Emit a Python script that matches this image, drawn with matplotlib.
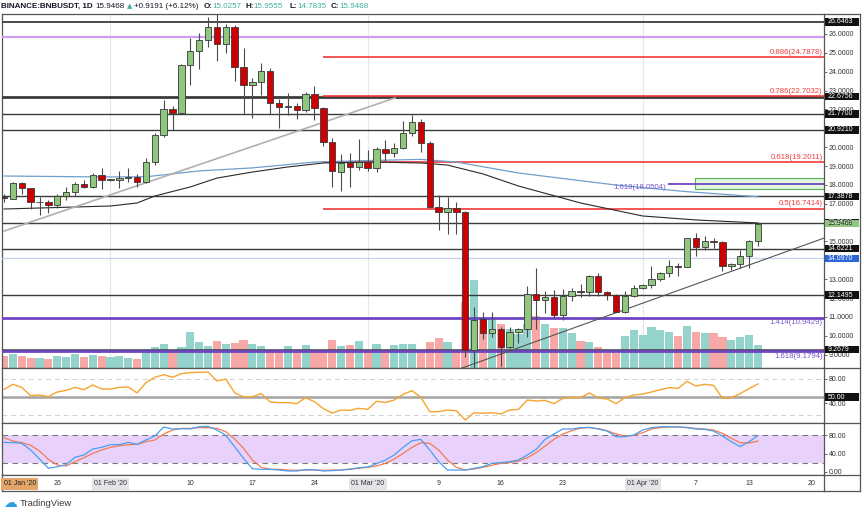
import matplotlib
matplotlib.use("Agg")
import matplotlib.pyplot as plt
import matplotlib.dates as mdates
from matplotlib.patches import Rectangle
from matplotlib.lines import Line2D
import numpy as np
import pandas as pd

plt.rcParams['font.family'] = ['Liberation Sans', 'DejaVu Sans']

# ---- data ----
dates = pd.date_range("2020-01-20", "2020-04-14", freq="D")

opens = [17.32, 17.27, 18.08, 17.82, 17.07, 17.08, 16.95, 17.43, 17.64, 18.03,
         17.91, 18.52, 18.26, 18.26, 18.38, 18.43, 18.17, 19.23, 20.64, 22.02,
         21.79, 24.36, 25.12, 25.68, 26.39, 25.47, 26.35, 24.23, 23.30, 23.45,
         24.06, 22.36, 22.15, 22.18, 21.97, 22.80, 22.06, 20.29, 18.70, 19.18,
         18.97, 19.20, 18.88, 19.90, 19.67, 19.94, 20.73, 21.32, 20.24, 16.84,
         16.58, 16.80, 16.58, 9.24, 10.87, 10.13, 10.34, 9.39, 10.22, 10.34,
         12.21, 11.90, 12.07, 11.12, 12.12, 12.39, 12.30, 13.17, 12.30, 12.16,
         11.28, 12.11, 12.51, 12.69, 12.99, 13.31, 13.72, 13.66, 15.17, 14.69,
         15.04, 14.95, 13.70, 13.81, 14.25, 15.0257]
closes = [17.30, 18.12, 17.82, 17.07, 17.08, 16.95, 17.43, 17.64, 18.03, 17.91,
          18.52, 18.26, 18.26, 18.38, 18.43, 18.17, 19.23, 20.64, 22.02, 21.79,
          24.36, 25.12, 25.68, 26.39, 25.47, 26.35, 24.23, 23.30, 23.45, 24.06,
          22.36, 22.15, 22.18, 21.97, 22.80, 22.09, 20.29, 18.74, 19.18, 18.97,
          19.20, 18.88, 19.90, 19.67, 19.94, 20.73, 21.32, 20.24, 16.84, 16.58,
          16.80, 16.58, 9.24, 10.84, 10.13, 10.34, 9.39, 10.22, 10.34, 12.21,
          11.90, 12.07, 11.12, 12.12, 12.39, 12.30, 13.17, 12.30, 12.16, 11.28,
          12.11, 12.51, 12.69, 12.99, 13.31, 13.72, 13.66, 15.17, 14.69, 15.04,
          14.95, 13.70, 13.81, 14.25, 15.03, 15.9468]
highs = [17.50, 18.17, 18.17, 17.85, 17.37, 17.20, 17.50, 17.91, 18.17, 18.26,
         18.61, 18.88, 18.30, 18.76, 18.88, 18.58, 19.41, 20.77, 22.50, 22.18,
         24.41, 25.77, 26.04, 26.92, 27.10, 26.53, 26.48, 25.24, 23.66, 24.44,
         24.18, 22.53, 22.85, 22.32, 22.94, 23.24, 22.15, 20.50, 19.64, 19.71,
         20.41, 19.85, 20.02, 20.37, 20.23, 21.40, 21.71, 21.48, 20.30, 17.46,
         17.37, 17.11, 16.60, 11.51, 11.24, 11.24, 10.48, 10.45, 10.39, 12.65,
         13.61, 12.39, 12.42, 12.46, 12.51, 12.77, 13.22, 13.31, 12.37, 12.21,
         12.39, 12.69, 12.72, 13.70, 13.40, 14.02, 13.88, 15.17, 15.43, 15.31,
         15.17, 15.04, 13.88, 14.55, 15.08, 15.9555]
lows = [17.11, 17.23, 17.52, 16.70, 16.40, 16.53, 16.76, 17.20, 17.40, 17.82,
        17.86, 17.77, 18.22, 17.82, 18.17, 17.91, 18.12, 19.05, 20.55, 20.90,
        21.76, 23.30, 24.13, 25.33, 24.59, 25.01, 23.53, 21.76, 21.53, 22.77,
        21.76, 21.00, 21.71, 21.48, 21.88, 21.44, 20.08, 17.91, 17.70, 17.91,
        18.79, 18.75, 18.70, 19.26, 19.49, 19.88, 20.59, 19.76, 16.75, 15.61,
        15.40, 15.40, 8.89, 6.50, 9.81, 9.95, 8.41, 9.34, 9.60, 9.95,
        10.36, 11.22, 10.93, 10.84, 11.86, 12.04, 12.11, 12.11, 11.90, 11.24,
        11.22, 12.07, 12.49, 12.51, 12.90, 13.14, 13.17, 13.63, 14.23, 14.55,
        14.64, 13.45, 13.49, 13.58, 13.61, 14.7835]
volumes = [0.60, 0.70, 0.60, 0.52, 0.52, 0.45, 0.60, 0.57, 0.72, 0.54,
           0.65, 0.60, 0.55, 0.58, 0.50, 0.45, 0.85, 1.04, 1.19, 0.80,
           1.05, 1.80, 1.30, 1.10, 1.35, 1.20, 1.25, 1.40, 1.20, 1.10,
           0.80, 0.80, 1.10, 0.80, 1.14, 0.80, 0.80, 1.40, 1.12, 1.15,
           1.33, 0.80, 1.22, 0.80, 1.15, 1.20, 1.20, 0.80, 1.29, 1.52,
           1.29, 0.80, 3.30, 4.38, 2.50, 2.45, 2.20, 1.95, 1.70, 2.20,
           2.60, 2.20, 2.00, 2.00, 1.75, 1.35, 1.30, 1.05, 0.75, 0.75,
           1.60, 1.90, 1.63, 2.03, 1.90, 1.80, 1.60, 2.10, 1.78, 1.73,
           1.75, 1.53, 1.40, 1.55, 1.63, 1.15]
rsi = [62.8, 71.1, 66.1, 52.2, 53.3, 50.6, 58.3, 61.1, 66.1, 62.2,
       70.0, 63.3, 63.3, 66.1, 66.7, 56.7, 73.9, 82.8, 87.2, 82.8,
       88.9, 90.6, 91.1, 91.7, 76.7, 80.0, 57.2, 50.0, 50.6, 55.6,
       41.7, 40.6, 40.6, 38.9, 48.9, 42.2, 30.6, 23.3, 28.3, 27.8,
       31.1, 29.4, 42.8, 41.1, 45.0, 54.4, 60.6, 49.4, 25.6,
       25.6, 28.3, 27.2, 11.7, 23.9, 22.8, 23.9, 21.7, 28.3, 29.4,
       45.0, 43.3, 44.4, 38.9, 47.8, 49.4, 48.9, 56.7, 48.3, 46.7,
       38.9, 48.9, 53.3, 55.0, 58.3, 62.2, 65.6, 64.4, 76.1, 68.3,
       71.1, 69.4, 47.8, 48.9, 55.6, 63.9, 71.7]
stoch_k = [64.1, 63.4, 62.0, 47.6, 28.1, 7.9, 11.5, 15.9, 31.7, 36.8,
           49.7, 53.3, 59.1, 59.1, 64.1, 59.8, 69.2, 77.8, 97.3, 93.0,
           93.7, 93.0, 98.0, 98.7, 90.8, 79.3, 54.8, 29.5, 7.2, 5.8,
           5.8, 4.3, 2.2, 2.2, 5.0, 5.0, 2.2, 2.9, 4.3, 5.8,
           9.4, 10.8, 18.0, 25.9, 36.8, 53.3, 67.7, 70.6, 47.6,
           22.3, 4.3, 4.3, 4.3, 7.9, 11.5, 18.7, 20.2, 22.3, 25.9,
           36.8, 49.0, 70.6, 82.2, 93.0, 93.0, 95.9, 96.6, 93.0, 88.6,
           76.4, 76.4, 80.0, 90.8, 95.9, 98.0, 98.0, 97.3, 96.6, 93.0,
           92.3, 88.6, 77.8, 65.6, 54.8, 65.6, 78.6]
stoch_d = [74.2, 67.0, 63.4, 57.7, 45.4, 27.4, 15.1, 13.0, 22.3, 31.0,
           40.4, 47.6, 53.3, 56.9, 59.1, 59.8, 65.6, 69.2, 82.2, 90.8,
           94.4, 94.4, 95.9, 95.9, 94.4, 87.2, 71.4, 51.2, 25.9, 10.1,
           5.8, 5.8, 4.3, 3.6, 4.3, 4.3, 3.6, 4.3, 4.3, 6.5,
           7.9, 10.1, 13.0, 18.7, 28.1, 40.4, 53.3, 63.4, 62.0,
           47.6, 25.9, 10.1, 4.3, 6.5, 10.1, 14.4, 18.7, 20.2, 23.8,
           31.0, 41.8, 56.2, 70.6, 82.2, 89.4, 95.1, 95.9, 93.7, 89.4,
           82.2, 77.8, 79.3, 85.0, 93.0, 95.9, 97.3, 97.3, 95.9, 94.4,
           93.0, 90.8, 83.6, 72.8, 63.4, 62.7, 67.0]

# moving averages, read at a few points
ma_black_dates = ["2020-01-20", "2020-02-01", "2020-02-04", "2020-02-06", "2020-02-10",
                  "2020-02-13", "2020-02-17", "2020-02-21", "2020-02-25", "2020-03-02",
                  "2020-03-07", "2020-03-10", "2020-03-14", "2020-03-18", "2020-03-25",
                  "2020-04-01", "2020-04-07", "2020-04-14"]
ma_black_vals = [16.72, 16.88, 17.04, 17.41, 17.89, 18.36, 18.68, 18.95, 19.16, 19.21,
                 19.16, 19.05, 18.58, 17.94, 17.04, 16.35, 16.14, 15.98]
ma_blue_dates = ["2020-01-20", "2020-01-31", "2020-02-05", "2020-02-11", "2020-02-17",
                 "2020-02-24", "2020-03-01", "2020-03-07", "2020-03-11", "2020-03-18",
                 "2020-03-29", "2020-04-06", "2020-04-14"]
ma_blue_vals = [18.47, 18.42, 18.43, 18.74, 18.90, 19.21, 19.29, 19.35, 19.21, 18.63,
                17.99, 17.64, 17.37]

trend_up_dates = ["2020-01-20 00:00", "2020-03-04 02:00"]
trend_up_vals = [15.55, 22.61]
trend_low_dates = ["2020-03-12", "2020-04-14"]
trend_low_vals = [8.35, 13.92]

black_levels = [26.6463, 22.6756, 21.7700, 20.9210, 17.3878, 15.9869, 14.6221, 12.1495, 9.2679]
black_widths = [1.3, 2.0, 1.0, 1.0, 1.0, 1.0, 1.0, 1.0, 1.8]
fib_red = [(0.886, 24.7878), (0.786, 22.7032), (0.618, 19.2011), (0.5, 16.7414)]
fib_purple = [(1.414, 10.9429), (1.618, 9.1794)]
fib_ext = (1.618, 18.0504)
violet_level = 25.86
blue_level = 14.0970
zone_low, zone_high = 17.78, 18.36
last_price = 15.9468
scale_ticks = [9, 10, 11, 12, 13, 15, 17, 18, 19, 20, 22, 23, 24, 25, 26]

date_labels = [("2020-01-26", "26"), ("2020-02-01", "01 Feb '20"), ("2020-02-10", "10"),
               ("2020-02-17", "17"), ("2020-02-24", "24"), ("2020-03-01", "01 Mar '20"),
               ("2020-03-09", "9"), ("2020-03-16", "16"), ("2020-03-23", "23"),
               ("2020-04-01", "01 Apr '20"), ("2020-04-07", "7"), ("2020-04-13", "13"),
               ("2020-04-20", "20")]

# ---- layout ----
W, H = 864, 516
def fx(px): return px / W
def fy(py): return 1 - py / H

fig = plt.figure(figsize=(8.64, 5.16), dpi=100)
L, R = 2, 824
ax = fig.add_axes([fx(L), fy(368), (R - L) / W, (368 - 14) / H])
rax = fig.add_axes([fx(L), fy(423), (R - L) / W, 55 / H], sharex=ax)
sax = fig.add_axes([fx(L), fy(475), (R - L) / W, 52 / H], sharex=ax)
dax = fig.add_axes([fx(L), fy(491), (R - L) / W, 16 / H], sharex=ax)
vax = ax.twinx()
vax.set_zorder(ax.get_zorder() - 1)
ax.patch.set_visible(False)

x = mdates.date2num(dates)
O, Hh, Lw, C = map(np.array, (opens, highs, lows, closes))
up = C >= O

xlim = (x[0] - 0.23, x[0] + 92.45)
ax.set_xlim(*xlim)
ax.set_ylim(8.29, 27.06)
rax.set_ylim(6.7, 98.3)
sax.set_ylim(-6.5, 106)
dax.set_ylim(0, 1)
vax.set_ylim(0, 17.65)

def dnum(lst):
    return mdates.date2num(pd.to_datetime(lst, format='mixed'))

# volume
vax.bar(x, volumes, width=0.92, color=np.where(up, '#93d3cc', '#f6a8a7'), zorder=2)
for m in ["2020-02-01", "2020-03-01", "2020-04-01"]:
    vax.axvline(mdates.date2num(pd.Timestamp(m)), color='#e6e6e6', lw=0.8, zorder=1)
vax.set_yticks([])
vax.tick_params(left=False, right=False, labelright=False, bottom=False, labelbottom=False)
for s in vax.spines.values():
    s.set_visible(False)

# horizontal levels
ytr = ax.get_yaxis_transform()
for lv, w in zip(black_levels, black_widths):
    ax.axhline(lv, color='#3c3c3c', lw=w, zorder=3)
ax.axhline(violet_level, color='#cf9cf2', lw=1.6, zorder=3)
ax.axhline(blue_level, color='#c5d3ee', lw=0.9, zorder=3)
fib_start = mdates.date2num(pd.Timestamp("2020-02-25")) - 0.05
for r, lv in fib_red:
    ax.hlines(lv, fib_start, xlim[1], color='#f23a3a', lw=1.2, zorder=3)
    ax.text(0.9985, lv + 0.06, f"{r}({lv})", transform=ytr, ha='right', va='bottom',
            color='#f23a3a', fontsize=5.6, zorder=6)
for r, lv in fib_purple:
    ax.axhline(lv, color='#6f45c4', lw=2.0, zorder=3)
    ax.text(0.9985, lv - 0.08, f"{r}({lv})", transform=ytr, ha='right', va='top',
            color='#7b58cc', fontsize=5.6, zorder=6)
ext_start = mdates.date2num(pd.Timestamp("2020-04-04")) - 0.1
ax.add_patch(Rectangle((mdates.date2num(pd.Timestamp("2020-04-07")) - 0.1, zone_low),
                       xlim[1], zone_high - zone_low, facecolor='#e2f6dc',
                       edgecolor='#5cae5c', lw=0.8, zorder=2))
ax.hlines(fib_ext[1], ext_start, xlim[1], color='#6f45c4', lw=1.3, zorder=3)
ax.text(ext_start - 0.2, fib_ext[1] - 0.02, f"{fib_ext[0]}({fib_ext[1]})",
        ha='right', va='top', color='#7b58cc', fontsize=5.6, zorder=6)

# moving averages and trend lines
ax.plot(dnum(ma_blue_dates), ma_blue_vals, color='#6f9fcf', lw=0.9, zorder=3)
ax.plot(dnum(ma_black_dates), ma_black_vals, color='#2a2a2a', lw=0.8, zorder=3)
ax.plot(dnum(trend_up_dates), trend_up_vals, color='#b0b0b0', lw=1.2, zorder=3)
tl = dnum(trend_low_dates)
ax.axline((tl[0], trend_low_vals[0]), (tl[1], trend_low_vals[1]), color='#555555', lw=0.8, zorder=3)

# candles
ax.vlines(x, Lw, Hh, color='#4a4a4a', lw=0.8, zorder=4)
body = np.maximum(np.abs(C - O), 0.035)
ax.bar(x, body, bottom=np.minimum(O, C), width=0.72,
       color=np.where(up, '#8fc77f', '#cc0000'), edgecolor='#383838', linewidth=0.6, zorder=5)

# right price scale
ax.yaxis.tick_right()
ax.set_yticks(scale_ticks)
ax.set_yticklabels([f"{v:.4f}" for v in scale_ticks])
ax.tick_params(axis='y', length=2, width=0.6, color='#555', labelsize=5, pad=1.5, labelcolor='#333')
ax.tick_params(axis='x', bottom=False, labelbottom=False)


def scale_box(a, y, label, fc, tc, hpx=7.5):
    y0, y1 = a.get_ylim()
    hpx_axes = a.get_position().height * H
    h = hpx * (y1 - y0) / hpx_axes
    tr = a.get_yaxis_transform()
    a.add_patch(Rectangle((1.0012, y - h / 2), 0.0415, h, transform=tr, facecolor=fc,
                          edgecolor='none', clip_on=False, zorder=10))
    a.text(1.0045, y, label, transform=tr, ha='left', va='center', fontsize=5,
           color=tc, clip_on=False, zorder=11)


for lv in black_levels:
    scale_box(ax, lv, f"{lv:.4f}", '#111111', 'white')
scale_box(ax, last_price, f"{last_price:.4f}", '#8fc77f', '#1a1a1a')
scale_box(ax, blue_level, f"{blue_level:.4f}", '#2b67d6', 'white')

# RSI
rax.plot(x, rsi, color='#f6a42f', lw=1.0, zorder=4)
rax.axhline(50, color='#a3a3a3', lw=1.8, zorder=2)
for lv in (80, 20):
    rax.axhline(lv, color='#cfcfcf', lw=0.7, ls=(0, (5, 4)), zorder=2)
rax.yaxis.tick_right()
rax.set_yticks([80, 40])
rax.set_yticklabels(["80.00", "40.00"])
rax.tick_params(axis='y', length=2, width=0.6, color='#555', labelsize=5, pad=1.5, labelcolor='#333')
rax.tick_params(axis='x', bottom=False, labelbottom=False)
scale_box(rax, 50, "50.00", '#111111', 'white')

# Stoch RSI
sax.axhspan(20, 80, color='#e8d2fb', lw=0, zorder=1)
for lv in (80, 20):
    sax.axhline(lv, color='#777777', lw=0.8, ls=(0, (5, 4)), zorder=2)
sax.plot(x, stoch_d, color='#f27b52', lw=0.9, zorder=4)
sax.plot(x, stoch_k, color='#4a9ef2', lw=0.9, zorder=5)
sax.yaxis.tick_right()
sax.set_yticks([80, 40, 0])
sax.set_yticklabels(["80.00", "40.00", "0.00"])
sax.tick_params(axis='y', length=2, width=0.6, color='#555', labelsize=5, pad=1.5, labelcolor='#333')
sax.tick_params(axis='x', bottom=False, labelbottom=False)

# date row
dax.set_yticks([])
dax.tick_params(axis='x', bottom=False, labelbottom=False)
for d, lab in date_labels:
    box = None
    if "'" in lab:
        box = dict(boxstyle='square,pad=0.35', fc='#e2e4e7', ec='none')
    dax.text(mdates.date2num(pd.Timestamp(d)), 0.45, lab, ha='center', va='center',
             fontsize=5, color='#333', bbox=box)
dax.text(0.002, 0.45, "01 Jan '20", transform=dax.transAxes, ha='left', va='center',
         fontsize=5, color='#222', bbox=dict(boxstyle='square,pad=0.35', fc='#e2a66b', ec='none'))

for a in (ax, rax, sax, dax):
    for s in a.spines.values():
        s.set_color('#555555')
        s.set_linewidth(0.9)

# outer frame of the right scale column
def fig_line(xs, ys):
    fig.add_artist(Line2D([fx(v) for v in xs], [fy(v) for v in ys], color='#555555', lw=0.9,
                          transform=fig.transFigure))

fig_line([860, 860], [14, 491])
for yy in (14, 368, 423, 475, 491):
    fig_line([824, 860], [yy, yy])

# header
hy = fy(6)
hs = 5.8
fig.text(fx(1), hy, "BINANCE:BNBUSDT, 1D", fontsize=hs, fontweight='bold', color='#131722', va='center')
fig.text(fx(95), hy, "15.9468", fontsize=hs, color='#131722', va='center')
fig.text(fx(127), hy, "▲", fontsize=hs - 0.8, color='#3fae9a', va='center', family=['DejaVu Sans'])
fig.text(fx(134), hy, "+0.9191 (+6.12%)", fontsize=hs, color='#131722', va='center')
for px, k, v in [(204, "O:", "15.0257"), (245, "H:", "15.9555"), (289, "L:", "14.7835"), (331, "C:", "15.9468")]:
    fig.text(fx(px), hy, k, fontsize=hs, fontweight='bold', color='#131722', va='center')
    fig.text(fx(px + 8), hy, v, fontsize=hs, color='#3fae9a', va='center')

# logo
fig.text(fx(3), fy(503), "☁", fontsize=10, color='#2f9ee0', va='center', family=['DejaVu Sans'])
fig.text(fx(20), fy(504), "TradingView", fontsize=6.8, color='#3c3c3c', va='center')

fig.savefig("out.png", dpi=100, facecolor='white')
